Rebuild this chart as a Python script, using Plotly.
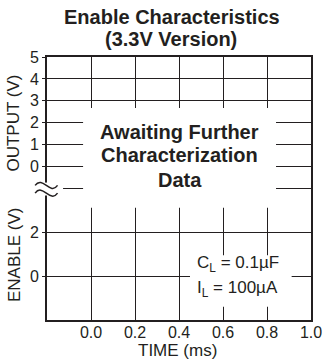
import plotly.graph_objects as go

# ---------------- data (no measured series: chart awaits data) ----------------
time_ticks = [0.0, 0.2, 0.4, 0.6, 0.8, 1.0]
time_labels = ["0.0", "0.2", "0.4", "0.6", "0.8", "1.0"]
output_ticks = [5, 4, 3, 2, 1, 0]
enable_ticks = [2, 0]
title_lines = ["Enable Characteristics", "(3.3V Version)"]
note_lines = ["Awaiting Further", "Characterization", "Data"]
cond_lines = ["C<sub>L</sub> = 0.1µF", "I<sub>L</sub> = 100µA"]

# ---------------- layout geometry ----------------
W, H = 323, 364
ML, MR, MT, MB = 47, 12, 57, 44
X_RANGE = [-0.2, 1.0]
Y_RANGE = [-7.0, 5.0]          # stacked axis units
ENABLE_OFFSET = -5.0           # enable value e is drawn at e + ENABLE_OFFSET
BREAK_LEVEL = -1.0
INK = "#231f20"
FONT = "Liberation Sans, Arial, Helvetica, sans-serif"

def px(x):   # data x -> paper x
    return (x - X_RANGE[0]) / (X_RANGE[1] - X_RANGE[0])

def py(u):   # stacked units -> paper y
    return (u - Y_RANGE[0]) / (Y_RANGE[1] - Y_RANGE[0])

ytickvals = list(output_ticks) + [e + ENABLE_OFFSET for e in enable_ticks]
yticktext = [str(v) for v in output_ticks] + [str(e) for e in enable_ticks]

fig = go.Figure()
# invisible trace to establish the axes
fig.add_trace(go.Scatter(x=X_RANGE, y=Y_RANGE, mode="markers",
                         marker=dict(opacity=0), hoverinfo="skip", showlegend=False))

shapes = []
# broken-axis reference line
shapes.append(dict(type="line", xref="x", yref="y", x0=-0.127, x1=X_RANGE[1],
                   y0=BREAK_LEVEL, y1=BREAK_LEVEL, layer="below",
                   line=dict(color=INK, width=1)))
# white panel behind the central note
shapes.append(dict(type="rect", xref="x", yref="y", x0=-0.036, x1=0.841,
                   y0=-1.88, y1=2.67, fillcolor="white", line=dict(width=0),
                   layer="between"))
# white panel behind the conditions text
shapes.append(dict(type="rect", xref="x", yref="y", x0=0.45, x1=0.912,
                   y0=-6.40, y1=-4.05, fillcolor="white", line=dict(width=0),
                   layer="between"))
# gap in the left axis line at the break
shapes.append(dict(type="rect", xref="paper", yref="paper", x0=-0.03, x1=0.012,
                   y0=py(BREAK_LEVEL - 0.32), y1=py(BREAK_LEVEL + 0.27),
                   fillcolor="white", line=dict(width=0), layer="above"))
# two tilde break marks
sx0, sx1 = -0.045, 0.040
hh = 0.040
for du in (0.14, -0.21):
    yc = py(BREAK_LEVEL + du)
    w = sx1 - sx0
    path = (f"M {sx0},{yc} C {sx0 + w/3},{yc + hh} {sx0 + 2*w/3},{yc - hh} {sx1},{yc}")
    shapes.append(dict(type="path", xref="paper", yref="paper", path=path,
                       line=dict(color=INK, width=1.5), layer="above"))

annotations = []
# title
for txt, xc, yp in zip(title_lines, [172, 171], [17, 39]):
    annotations.append(dict(text=f"<b>{txt}</b>", xref="paper", yref="paper",
                            x=(xc - ML) / (W - ML - MR), y=(H - MB - yp) / (H - MT - MB),
                            xanchor="center", yanchor="middle", showarrow=False,
                            font=dict(size=20, color=INK, family=FONT)))
# central note
for txt, u in zip(note_lines, [1.56, 0.52, -0.62]):
    annotations.append(dict(text=f"<b>{txt}</b>", xref="x", yref="y", x=0.4045, y=u,
                            xanchor="center", yanchor="middle", showarrow=False,
                            font=dict(size=20, color=INK, family=FONT)))
# test conditions
for txt, u in zip(cond_lines, [-4.45, -5.59]):
    annotations.append(dict(text=txt, xref="x", yref="y", x=0.473, y=u,
                            xanchor="left", yanchor="middle", showarrow=False,
                            font=dict(size=17, color=INK, family=FONT)))
# axis titles
annotations.append(dict(text="OUTPUT (V)", xref="paper", yref="paper", x=-0.125, y=0.747,
                        textangle=-90, xanchor="center", yanchor="middle", showarrow=False,
                        font=dict(size=17, color=INK, family=FONT)))
annotations.append(dict(text="ENABLE (V)", xref="paper", yref="paper", x=-0.125, y=0.247,
                        textangle=-90, xanchor="center", yanchor="middle", showarrow=False,
                        font=dict(size=17, color=INK, family=FONT)))
annotations.append(dict(text="TIME (ms)", xref="paper", yref="paper", x=0.496, y=-0.116,
                        xanchor="center", yanchor="middle", showarrow=False,
                        font=dict(size=17, color=INK, family=FONT)))

fig.update_layout(
    width=W, height=H,
    margin=dict(l=ML, r=MR, t=MT, b=MB, pad=0, autoexpand=False),
    paper_bgcolor="white", plot_bgcolor="white",
    showlegend=False,
    shapes=shapes, annotations=annotations,
    font=dict(family=FONT, color=INK),
    xaxis=dict(range=X_RANGE, tickvals=time_ticks, ticktext=time_labels,
               showgrid=True, gridcolor=INK, gridwidth=1, zeroline=False,
               showline=True, linecolor=INK, linewidth=2, mirror=True,
               ticks="", automargin=False, ticklabelstandoff=-3,
               tickfont=dict(size=16, color=INK, family=FONT),
               fixedrange=True),
    yaxis=dict(range=Y_RANGE, tickvals=ytickvals, ticktext=yticktext,
               showgrid=True, gridcolor=INK, gridwidth=1, zeroline=False,
               showline=True, linecolor=INK, linewidth=2, mirror=True,
               ticks="outside", ticklen=3, tickwidth=1, tickcolor=INK,
               automargin=False,
               tickfont=dict(size=16, color=INK, family=FONT),
               fixedrange=True),
)

fig.write_html("out.html", config={"displayModeBar": False},
               post_script="document.body.style.margin='0';document.body.style.padding='0';")
